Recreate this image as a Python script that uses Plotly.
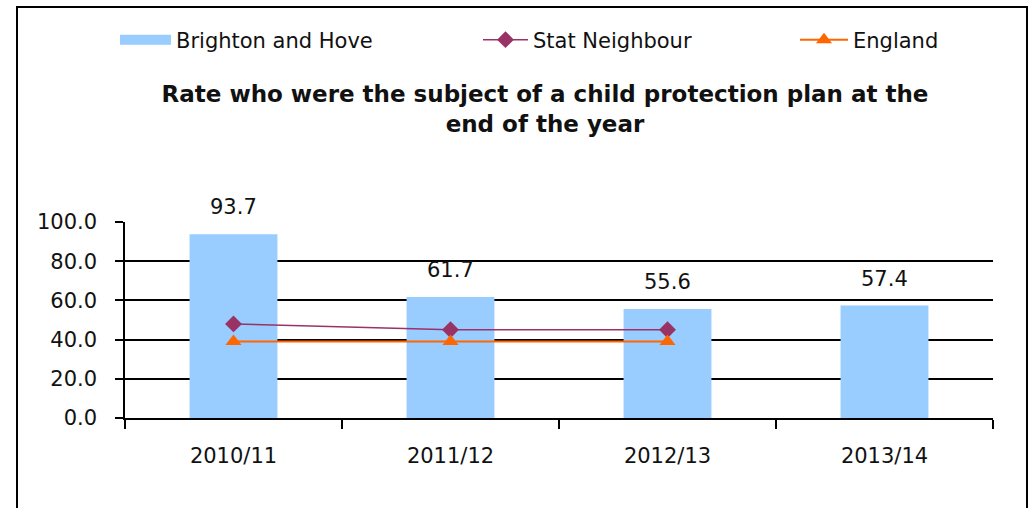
import plotly.graph_objects as go

categories = ["2010/11", "2011/12", "2012/13", "2013/14"]
brighton = [93.7, 61.7, 55.6, 57.4]
stat_neighbour = [48.0, 45.0, 45.0]
england = [39.0, 39.0, 39.0]
y_ticks = [0, 20, 40, 60, 80, 100]
y_tick_labels = ["0.0", "20.0", "40.0", "60.0", "80.0", "100.0"]

FONT = "DejaVu Sans"
TXT = "#111111"

# plot area in pixels
L, R, T, B = 125, 37, 222, 90
W, H = 1030, 508
pw, ph = W - L - R, H - T - B

def px(x):
    return (x - L) / pw

def py(y):
    return (H - B - y) / ph

fig = go.Figure()

fig.add_trace(go.Bar(
    x=categories, y=brighton, name="Brighton and Hove",
    marker=dict(color="#99CCFF", line=dict(width=0)),
    showlegend=False,
))
fig.add_trace(go.Scatter(
    x=[None], y=[None], name="Brighton and Hove", mode="lines",
    line=dict(color="#99CCFF", width=13), legend="legend",
))
fig.add_trace(go.Scatter(
    x=categories[:len(stat_neighbour)], y=stat_neighbour, name="Stat Neighbour",
    mode="lines+markers", line=dict(color="#993366", width=1.5),
    marker=dict(symbol="diamond", size=13, color="#993366"),
    legend="legend2", cliponaxis=False,
))
fig.add_trace(go.Scatter(
    x=categories[:len(england)], y=england, name="England",
    mode="lines+markers", line=dict(color="#FF6600", width=2),
    marker=dict(symbol="triangle-up", size=14, color="#FF6600"),
    legend="legend3", cliponaxis=False,
))

annotations = []
for c, v in zip(categories, brighton):
    annotations.append(dict(
        x=c, y=v, xref="x", yref="y", text=f"{v:.1f}", showarrow=False,
        yanchor="bottom", yshift=13, font=dict(family=FONT, size=21, color=TXT),
    ))

def leg(x, iw):
    return dict(orientation="h", yanchor="middle", xanchor="left",
                x=px(x), y=py(40),
                font=dict(family=FONT, size=21, color=TXT),
                bgcolor="rgba(0,0,0,0)", borderwidth=0, itemwidth=iw)

fig.update_layout(
    width=W, height=H,
    margin=dict(l=L, r=R, t=T, b=B, pad=0),
    paper_bgcolor="white", plot_bgcolor="white",
    bargap=0.595,
    title=dict(
        text="Rate who were the subject of a child protection plan at the<br>end of the year",
        x=545 / W, xanchor="center", xref="container",
        y=1 - 102 / H, yanchor="middle", yref="container",
        font=dict(family=FONT, size=23, color=TXT, weight="bold"),
    ),
    legend=leg(115, 51),
    legend2=leg(478, 45),
    legend3=leg(795, 48),
    xaxis=dict(
        type="category", showline=True, linecolor="black", linewidth=1.5,
        ticks="outside", ticklen=9, tickcolor="black", tickwidth=1.5,
        tickson="boundaries", showgrid=False, ticklabelstandoff=18,
        tickfont=dict(family=FONT, size=21, color=TXT),
    ),
    yaxis=dict(
        range=[0, 100], tickvals=y_ticks, ticktext=y_tick_labels,
        showline=True, linecolor="black", linewidth=1.5,
        ticks="outside", ticklen=8, tickcolor="black", tickwidth=1.5,
        showgrid=True, gridcolor="black", gridwidth=1.5, zeroline=False,
        ticklabelstandoff=14,
        tickfont=dict(family=FONT, size=21, color=TXT),
    ),
    annotations=annotations,
    shapes=[dict(type="rect", xref="paper", yref="paper",
                 x0=px(17), x1=px(1027), y0=py(530), y1=py(7),
                 line=dict(color="black", width=2), layer="above")],
)

fig.write_html("out.html")
